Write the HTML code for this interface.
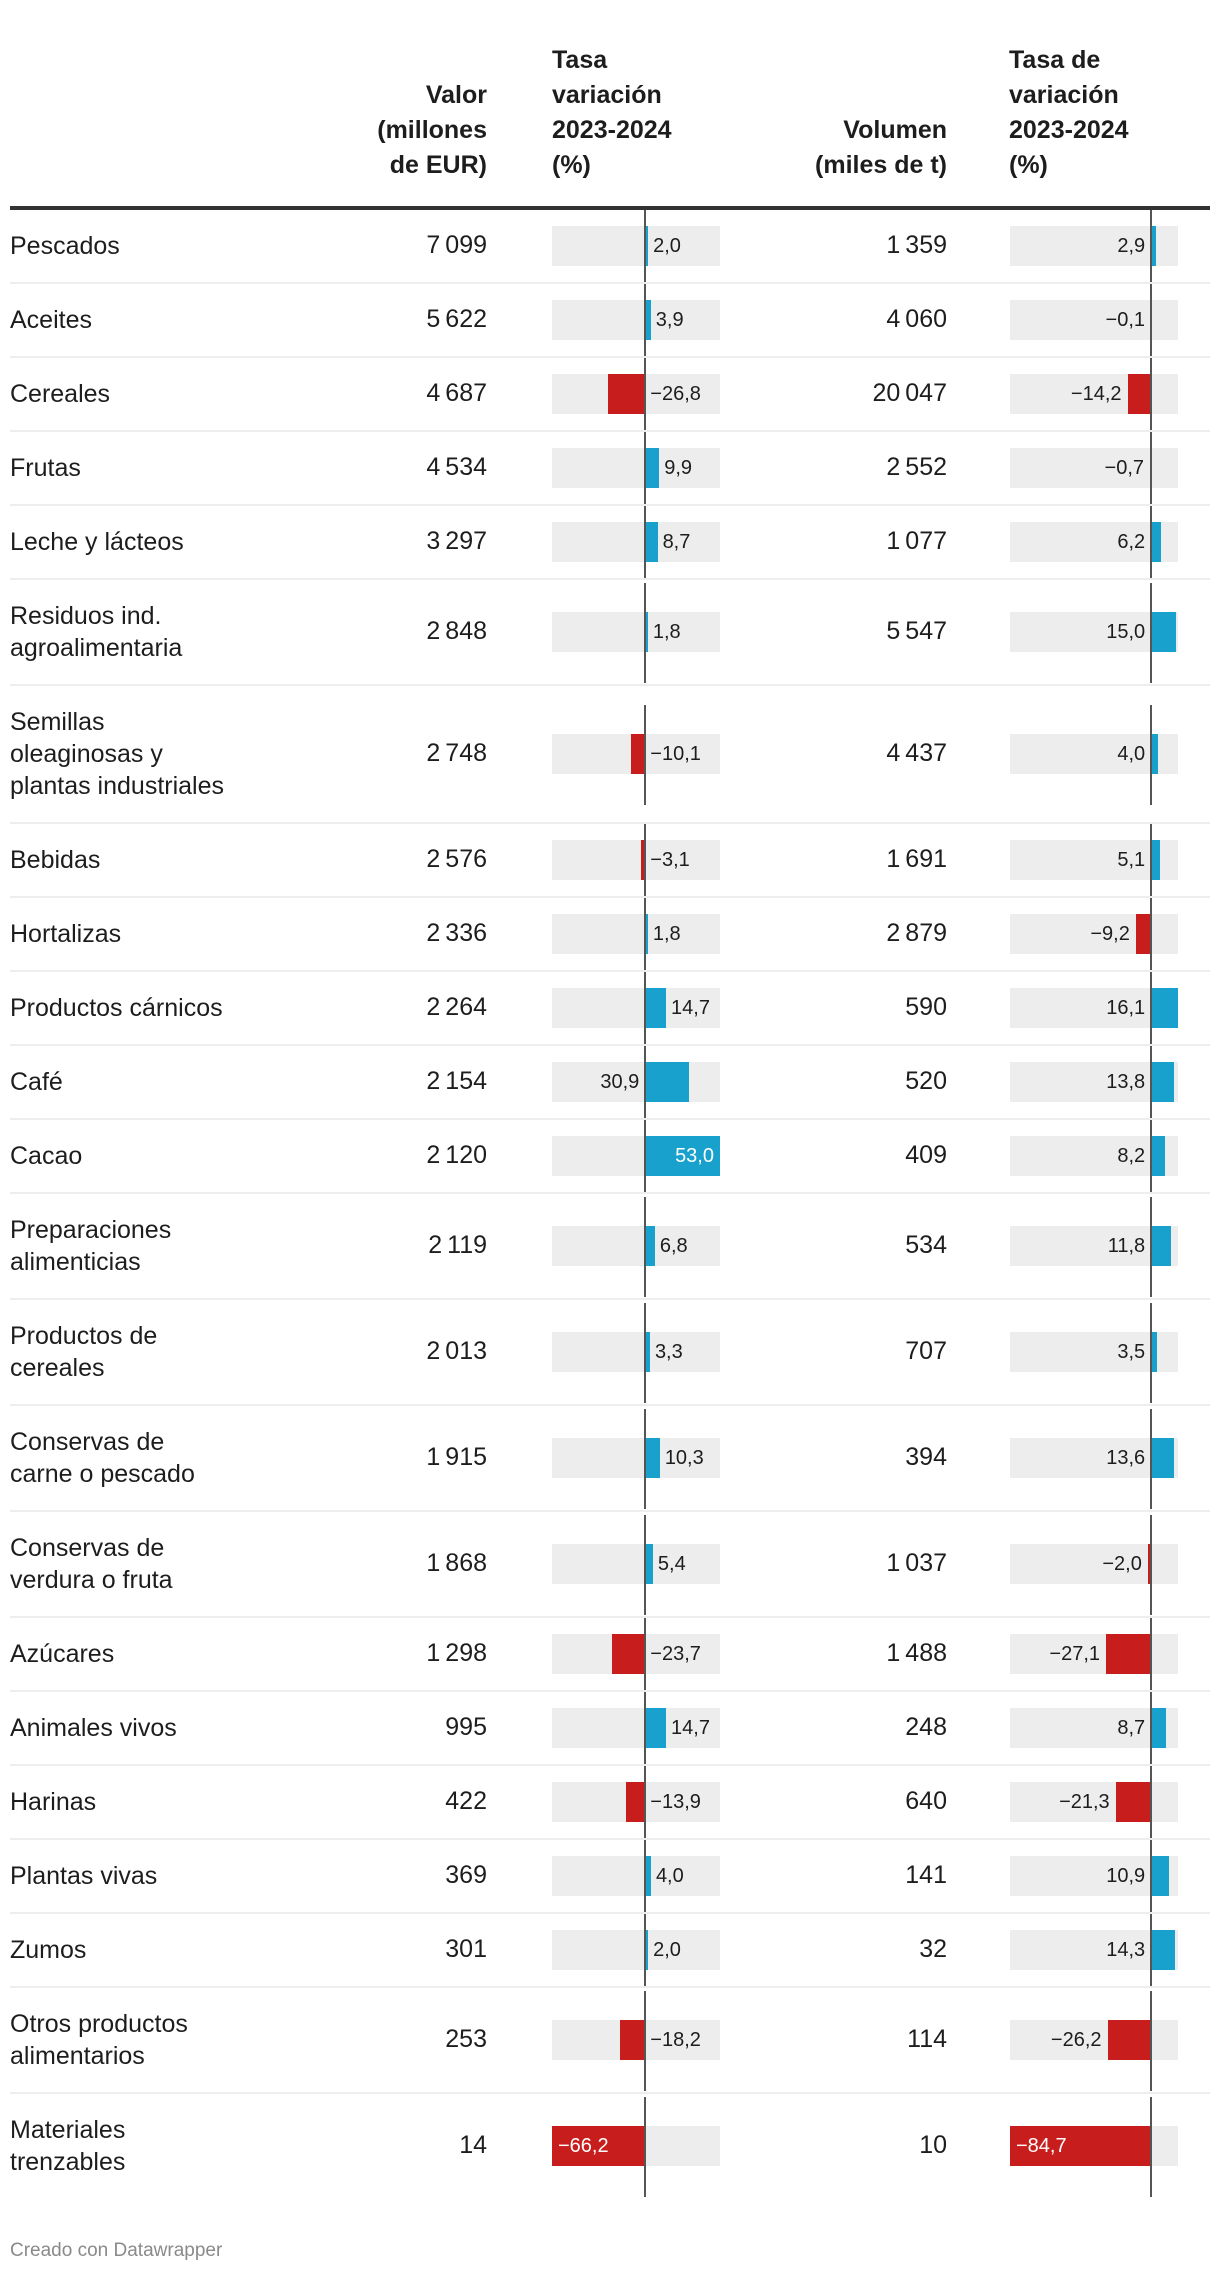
<!DOCTYPE html>
<html><head><meta charset="utf-8">
<style>
html,body{margin:0;padding:0;background:#fff;}
body{width:1220px;height:2274px;position:relative;overflow:hidden;font-family:"Liberation Sans",sans-serif;color:#1d1d1d;}
.abs{position:absolute;}
.hd{position:absolute;font-weight:bold;font-size:25px;line-height:35px;top:43px;color:#1d1d1d;}
.lbl{font-size:25px;line-height:32px;}
.num{font-size:25px;text-align:right;}
.bl{font-size:20px;line-height:40px;white-space:nowrap;}
</style></head>
<body>
<div class="hd" style="right:733px;text-align:right;top:78px;">Valor<br>(millones<br>de EUR)</div>
<div class="hd" style="left:552px;">Tasa<br>variación<br>2023-2024<br>(%)</div>
<div class="hd" style="right:273px;text-align:right;top:113px;">Volumen<br>(miles de t)</div>
<div class="hd" style="left:1009px;">Tasa de<br>variación<br>2023-2024<br>(%)</div>
<div class="abs" style="left:10px;top:206px;width:1200px;height:4px;background:#333;"></div>
<div id="rows"></div>
<div class="abs" style="left:10px;top:2240px;font-size:19px;color:#8a8a8a;">Creado con Datawrapper</div>
<script>
const categories=["Pescados","Aceites","Cereales","Frutas","Leche y lácteos","Residuos ind.<br>agroalimentaria","Semillas<br>oleaginosas y<br>plantas industriales","Bebidas","Hortalizas","Productos cárnicos","Café","Cacao","Preparaciones<br>alimenticias","Productos de<br>cereales","Conservas de<br>carne o pescado","Conservas de<br>verdura o fruta","Azúcares","Animales vivos","Harinas","Plantas vivas","Zumos","Otros productos<br>alimentarios","Materiales<br>trenzables"];
const valor=[7099,5622,4687,4534,3297,2848,2748,2576,2336,2264,2154,2120,2119,2013,1915,1868,1298,995,422,369,301,253,14];
const tasaValor=[2.0,3.9,-26.8,9.9,8.7,1.8,-10.1,-3.1,1.8,14.7,30.9,53.0,6.8,3.3,10.3,5.4,-23.7,14.7,-13.9,4.0,2.0,-18.2,-66.2];
const volumen=[1359,4060,20047,2552,1077,5547,4437,1691,2879,590,520,409,534,707,394,1037,1488,248,640,141,32,114,10];
const tasaVolumen=[2.9,-0.1,-14.2,-0.7,6.2,15.0,4.0,5.1,-9.2,16.1,13.8,8.2,11.8,3.5,13.6,-2.0,-27.1,8.7,-21.3,10.9,14.3,-26.2,-84.7];

const BLUE="#18a1cd",RED="#c71e1d",BG="#ededed";
const fmtInt=v=>{const s=String(v);return s.length>3?s.slice(0,-3)+"\u2009"+s.slice(-3):s;};
const fmtDec=v=>(v<0?"\u2212":"")+Math.abs(v).toFixed(1).replace(".",",");
function scale(x0,x1,d0,d1){return v=>x0+(v-d0)/(d1-d0)*(x1-x0);}
const minV=Math.min(...tasaValor),maxV=Math.max(...tasaValor);
const minW=Math.min(...tasaVolumen),maxW=Math.max(...tasaVolumen);
const sx1=scale(552,720,Math.min(minV,0),Math.max(maxV,0));
const sx2=scale(1010,1178,Math.min(minW,0),Math.max(maxW,0));
const root=document.getElementById('rows');
function mk(cls,style,html){const d=document.createElement('div');d.className='abs '+cls;d.style.cssText=style;if(html!==undefined)d.innerHTML=html;root.appendChild(d);return d;}
let y=210;
categories.forEach((c,i)=>{
  const lines=c.split("<br>").length;
  const h=lines===1?74:(lines===2?106:138);
  const cy=y+(h-2)/2;
  const l=mk('lbl',`left:10px;top:${cy-lines*16}px;`,c);
  
  
  const n1=mk('num',`right:733px;top:${cy-15}px;`,fmtInt(valor[i]));
  
  
  const n2=mk('num',`right:273px;top:${cy-15}px;`,fmtInt(volumen[i]));
  
  
  [[tasaValor[i],sx1,552,720,1,minV,maxV],[tasaVolumen[i],sx2,1010,1178,2,minW,maxW]].forEach(([v,sx,a,b,col,mn,mx])=>{
    const z=sx(0);
    const bg=mk('',`left:${a}px;top:${cy-20}px;width:${b-a}px;height:40px;background:${BG};`);
    
    
    const e=sx(v);
    const bar=mk('',`left:${Math.min(z,e)}px;top:${cy-20}px;width:${Math.max(Math.abs(e-z),1)}px;height:40px;background:${v>=0?BLUE:RED};`);
    
    
    const lh=Math.min(h,100);
    const ax=mk('',`left:${z-1}px;top:${y+(h-lh)/2}px;width:2px;height:${lh}px;background:#555;`);
    
    
    let st,color="#1d1d1d";
    const lw=45;
    if(col===1){
      if(v>=0){
        if(e+5+lw<=b) st=`left:${e+5}px;`;
        else if(v/mx>0.8){st=`right:${1220-e+6}px;`;color="#fff";}
        else st=`right:${1220-z+6}px;`;
      } else {
        if(v/mn>0.8){st=`left:${e+6}px;`;color="#fff";}
        else st=`left:${z+5}px;`;
      }
    } else {
      if(v>=0) st=`right:${1220-z+6}px;`;
      else if(v/mn>0.8){st=`left:${e+6}px;`;color="#fff";}
      else st=`right:${1220-e+6}px;`;
    }
    const t=mk('bl',`${st}top:${cy-20}px;color:${color};`,fmtDec(v));
    
    
  });
  const sep=mk('',`left:10px;top:${y+h-2}px;width:1200px;height:2px;background:${i===categories.length-1?'#fff':'#eee'};`);
  
  
  y+=h;
});
</script>
</body></html>
